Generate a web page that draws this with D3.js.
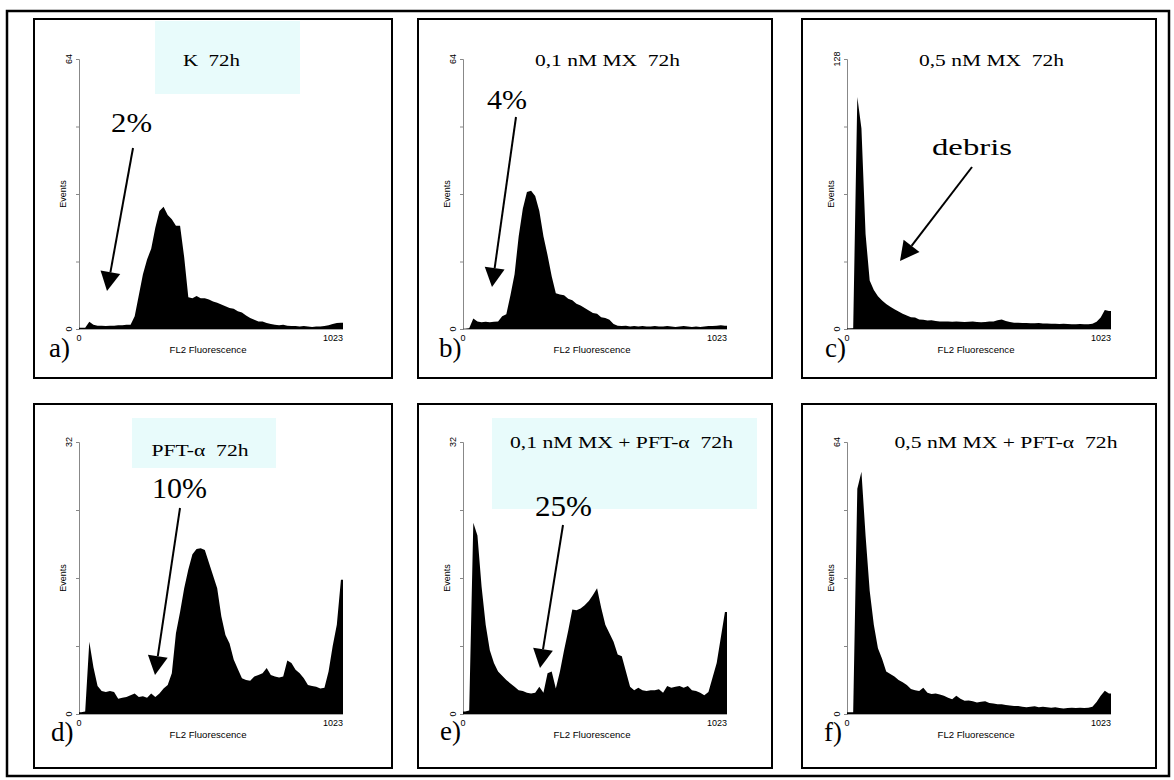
<!DOCTYPE html>
<html>
<head>
<meta charset="utf-8">
<script src="https://cdn.jsdelivr.net/npm/d3@7"></script>
<style>
  body { margin: 0; background: #fff; }
</style>
</head>
<body>
<div id="chart"></div>
<script>
// DNA histograms, FL2 channel 0-1023 read in 64 bins of 16 channels
const channels = d3.range(0, 1024, 16);

const countsK = [0.3,0.3,1.7,1.0,0.8,0.8,0.7,0.8,0.8,0.9,0.9,1.0,1.0,3.0,8.0,13.0,16.5,19.0,24.0,28.0,29.0,27.0,26.0,24.5,24.5,17.0,7.5,7.3,7.8,7.3,7.3,7.0,6.5,6.2,5.8,5.4,5.0,4.8,4.2,3.9,3.2,2.6,2.2,1.8,1.8,1.4,1.2,1.0,0.9,1.0,0.8,0.7,0.7,0.6,0.7,0.6,0.5,0.6,0.6,0.7,0.9,1.2,1.4,1.5];
const countsMX01 = [0,0.2,2.5,1.8,1.6,1.7,1.6,1.7,1.8,3.0,3.5,8,13,22,28.5,32.5,32.8,31.5,28,22,17.5,12.5,8.5,8.2,8.0,7.2,6.8,6.0,5.6,5.0,4.4,3.8,3.6,2.8,2.6,2.2,1.2,0.8,0.7,0.8,0.6,0.7,0.6,0.7,0.6,0.6,0.7,0.6,0.6,0.7,0.6,0.5,0.6,0.7,0.6,0.5,0.6,0.5,0.6,0.7,0.7,0.8,0.9,0.8];
const countsMX05 = [0.2,0.3,110,95,45,23,18.5,15.5,13.5,11.8,10.6,9.4,8.3,7.2,6.4,5.6,5.5,4.5,4.4,4.0,4.1,3.8,3.6,3.6,3.5,3.4,3.6,3.4,3.3,3.4,3.5,3.3,3.2,3.3,3.5,3.6,4.2,4.5,3.8,3.3,3.0,3.0,2.8,2.8,2.7,2.7,2.8,2.6,2.6,2.5,2.5,2.4,2.5,2.4,2.3,2.3,2.4,2.3,2.3,2.5,3.4,5.5,9.0,8.5];
const countsPFT = [0.2,0.3,8.5,5.5,3.3,2.7,2.6,2.7,2.6,1.8,1.9,2.0,2.2,2.4,2.0,2.1,1.9,2.4,2.0,2.4,3.0,3.4,4.8,9.5,12,14.8,17,18.8,19.4,19.5,19.3,17.8,16.3,14.8,11.5,9.3,8.3,6.4,5.3,4.2,4.0,3.9,4.4,4.6,4.8,5.4,4.6,4.4,4.3,4.4,6.3,6.0,5.2,4.8,4.2,3.4,3.3,3.2,3.0,3.1,5.0,8.0,10.5,15.8];
const countsMX01PFT = [0.3,0.4,22.5,21,15,10.5,7.5,6.0,5.0,4.5,4.0,3.6,3.2,2.8,2.7,2.5,2.4,2.5,3.2,2.5,4.8,5.0,3.0,5.0,7.5,9.8,12.3,12.2,12.4,12.8,13.3,14,14.8,12.5,10.5,9.5,8.5,7.0,6.8,5.0,3.2,2.8,3.1,2.8,2.7,2.8,2.8,2.9,2.5,3.3,3.1,3.2,3.3,3.1,3.3,2.8,2.7,2.5,2.2,2.6,4.3,6.0,9.0,12.0];
const countsMX05PFT = [0.4,0.4,53,57,42,29,21,15.5,13,10,9.4,8.8,8.0,7.5,6.8,5.9,5.6,5.4,6.2,5.0,4.7,4.8,4.6,4.3,3.8,3.5,4.3,3.6,3.1,3.2,3.0,2.7,2.9,3.0,2.6,2.5,2.3,2.3,2.1,2.0,1.9,1.9,1.7,1.6,1.7,1.8,1.6,1.7,1.6,1.5,1.6,1.4,1.3,1.4,1.5,1.4,1.5,1.4,1.5,1.7,2.8,4.3,5.5,4.8];

const panelTitles = ["K  72h", "0,1 nM MX  72h", "0,5 nM MX  72h", "PFT-\u03b1  72h", "0,1 nM MX + PFT-\u03b1  72h", "0,5 nM MX + PFT-\u03b1  72h"];
const panelLetters = ["a)", "b)", "c)", "d)", "e)", "f)"];
const yMaxes = [64, 64, 128, 32, 32, 64];
const notes = ["2%", "4%", "debris", "10%", "25%", ""];
const allCounts = [countsK, countsMX01, countsMX05, countsPFT, countsMX01PFT, countsMX05PFT];

// layout
const width = 1174, height = 780;
const boxLeft = [34, 418, 802], boxWidth = [358, 354, 354];
const rowTop = [19, 404], rowHeight = [359, 364];
const plotTop = [59, 442], plotBase = [329, 714];
const plotWidth = 264;
const titleX = [211.5, 607.5, 991.5, 200, 621.5, 1006];
const titleY = [66, 66, 66, 456, 448, 448];
const titleW = [57, 145, 145, 97, 223, 223];
const noteX = [131.5, 507, 972, 179.5, 563.5];
const noteY = [132, 109, 155, 498, 516];
const noteW = [41, 40, 80, 55, 57];
const noteSize = [28, 28, 24, 29, 29];
const arrows = [[133, 148, 107, 291], [516, 117, 492, 287], [972, 167, 900, 261], [180, 508, 155, 675], [563, 525, 540, 668]];
const letterX = [49, 439, 825, 51, 440, 824];
const letterY = [357, 357, 357, 741, 740, 741];
const tints = [[155, 21, 145, 73], null, null, [132, 418, 144, 50], [492, 418, 265, 91], null];

const serif = "'Times New Roman', 'Liberation Serif', Times, serif";
const sans = "Arial, 'Liberation Sans', Helvetica, sans-serif";

const svg = d3.select("#chart").append("svg")
  .attr("width", width)
  .attr("height", height)
  .style("display", "block");

// outer frame
svg.append("rect")
  .attr("x", 7).attr("y", 11)
  .attr("width", 1162).attr("height", 765)
  .attr("fill", "#fff")
  .attr("stroke", "#000")
  .attr("stroke-width", 2.5);

function arrow(g, x1, y1, x2, y2) {
  const dx = x2 - x1, dy = y2 - y1, len = Math.hypot(dx, dy);
  const ux = dx / len, uy = dy / len;
  const hl = 19, hw = 10;
  const bx = x2 - ux * hl, by = y2 - uy * hl;
  g.append("line")
    .attr("x1", x1).attr("y1", y1)
    .attr("x2", bx).attr("y2", by)
    .attr("stroke", "#000").attr("stroke-width", 2);
  g.append("path")
    .attr("d", `M${x2},${y2}L${bx - uy * hw},${by + ux * hw}L${bx + uy * hw},${by - ux * hw}Z`)
    .attr("fill", "#000");
}

allCounts.forEach((counts, i) => {
  const col = i % 3, row = Math.floor(i / 3);
  const g = svg.append("g").attr("class", "panel");

  g.append("rect")
    .attr("x", boxLeft[col]).attr("y", rowTop[row])
    .attr("width", boxWidth[col]).attr("height", rowHeight[row])
    .attr("fill", "#fff")
    .attr("stroke", "#000")
    .attr("stroke-width", 2);

  if (tints[i]) {
    const t = tints[i];
    g.append("rect")
      .attr("x", t[0]).attr("y", t[1])
      .attr("width", t[2]).attr("height", t[3])
      .attr("fill", "#e8fbfb");
  }

  const x0 = boxLeft[col] + 45;
  const x = d3.scaleLinear().domain([0, 1024]).range([x0, x0 + plotWidth]);
  const y = d3.scaleLinear().domain([0, yMaxes[i]]).range([plotBase[row], plotTop[row]]);

  // histogram: bin centres joined, closed at both ends of the channel range
  const pts = channels.map((c, k) => ({ ch: c + 8, v: counts[k] }));
  pts.unshift({ ch: 0, v: counts[0] });
  pts.push({ ch: 1024, v: counts[counts.length - 1] });
  const area = d3.area()
    .x(d => x(d.ch))
    .y0(y(0))
    .y1(d => y(d.v));

  // axes
  g.append("g")
    .attr("transform", `translate(${x0},0)`)
    .call(d3.axisLeft(y).tickValues(d3.range(5).map(k => k * yMaxes[i] / 4)).tickSize(3).tickFormat(""))
    .call(a => a.selectAll("line,path").attr("stroke", "#888"));
  g.append("line")
    .attr("x1", x0).attr("x2", x0 + plotWidth)
    .attr("y1", y(0)).attr("y2", y(0))
    .attr("stroke", "#555").attr("stroke-width", 1);

  g.append("path")
    .attr("d", area(pts))
    .attr("fill", "#000");

  const small = g.append("g")
    .style("font-family", sans)
    .style("font-size", "9px")
    .attr("fill", "#000");

  // rotated y labels
  [0, yMaxes[i]].forEach(v => {
    small.append("text")
      .attr("transform", `translate(${x0 - 7},${y(v)}) rotate(-90)`)
      .attr("text-anchor", "middle")
      .text(v);
  });
  small.append("text")
    .attr("transform", `translate(${x0 - 13},${(y(0) + y(yMaxes[i])) / 2}) rotate(-90)`)
    .attr("text-anchor", "middle")
    .text("Events");

  small.append("text")
    .attr("x", x(0)).attr("y", y(0) + 12)
    .attr("text-anchor", "middle")
    .text("0");
  small.append("text")
    .attr("x", x0 + plotWidth).attr("y", y(0) + 12)
    .attr("text-anchor", "end")
    .text("1023");
  small.append("text")
    .attr("x", x0 + plotWidth / 2 - 3).attr("y", y(0) + 23.5)
    .attr("text-anchor", "middle")
    .attr("textLength", 77)
    .attr("lengthAdjust", "spacingAndGlyphs")
    .text("FL2 Fluorescence");

  // title
  g.append("text")
    .attr("x", titleX[i] - titleW[i] / 2).attr("y", titleY[i])
    .attr("textLength", titleW[i])
    .attr("lengthAdjust", "spacingAndGlyphs")
    .style("font-family", serif)
    .style("font-size", "16.5px")
    .style("white-space", "pre")
    .text(panelTitles[i]);

  // annotation with arrow
  if (notes[i]) {
    g.append("text")
      .attr("x", noteX[i] - noteW[i] / 2).attr("y", noteY[i])
      .attr("textLength", noteW[i])
      .attr("lengthAdjust", "spacingAndGlyphs")
      .style("font-family", serif)
      .style("font-size", noteSize[i] + "px")
      .text(notes[i]);
    arrow(g, ...arrows[i]);
  }

  g.append("text")
    .attr("x", letterX[i]).attr("y", letterY[i])
    .style("font-family", serif)
    .style("font-size", "27px")
    .text(panelLetters[i]);
});
</script>
</body>
</html>
